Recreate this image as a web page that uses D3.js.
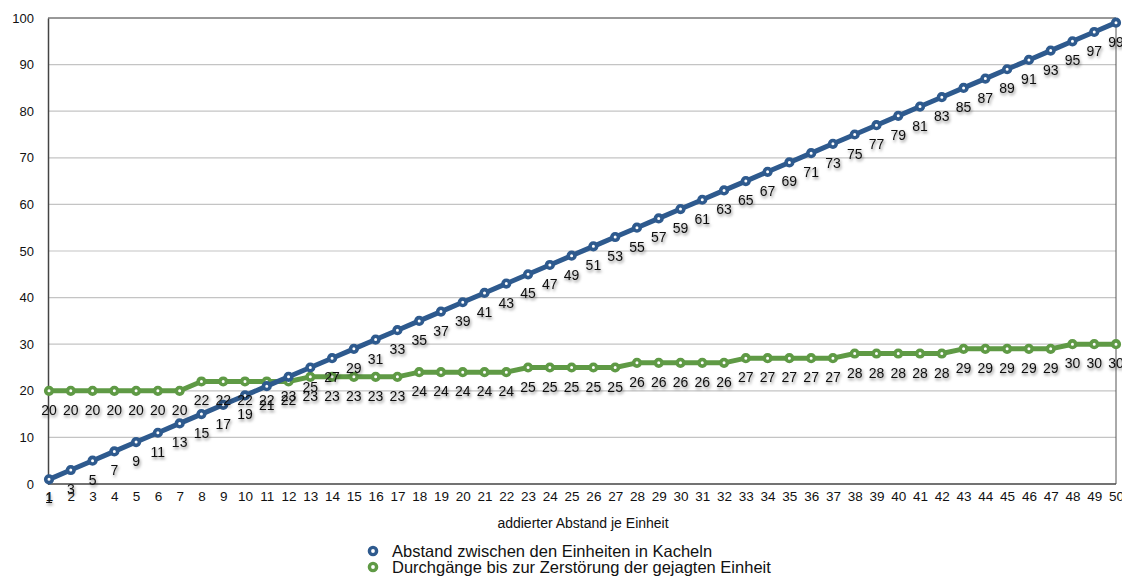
<!DOCTYPE html>
<html>
<head>
<meta charset="utf-8">
<script src="https://cdn.jsdelivr.net/npm/d3@7/dist/d3.min.js"></script>
<style>
  html, body { margin: 0; padding: 0; background: #fff; }
  svg { display: block; font-family: "Liberation Sans", Arial, Helvetica, sans-serif; }
</style>
</head>
<body>
<svg id="chart" width="1122" height="579"></svg>
<script>
// Categories on the x axis: added distance per unit
const categories = d3.range(1, 51);

// Distance between the units in tiles
const abstand = [1, 3, 5, 7, 9, 11, 13, 15, 17, 19, 21, 23, 25, 27, 29, 31, 33, 35, 37, 39,
  41, 43, 45, 47, 49, 51, 53, 55, 57, 59, 61, 63, 65, 67, 69, 71, 73, 75, 77, 79,
  81, 83, 85, 87, 89, 91, 93, 95, 97, 99];

// Turns until the hunted unit is destroyed
const durchgaenge = [20, 20, 20, 20, 20, 20, 20, 22, 22, 22, 22, 22, 23, 23, 23, 23, 23,
  24, 24, 24, 24, 24, 25, 25, 25, 25, 25, 26, 26, 26, 26, 26, 27, 27, 27, 27, 27,
  28, 28, 28, 28, 28, 29, 29, 29, 29, 29, 30, 30, 30];

const yTicks = [0, 10, 20, 30, 40, 50, 60, 70, 80, 90, 100];

const seriesNames = [
  "Abstand zwischen den Einheiten in Kacheln",
  "Durchgänge bis zur Zerstörung der gejagten Einheit"
];
const xTitle = "addierter Abstand je Einheit";

const series = [
  { name: seriesNames[0], values: abstand, color: "#2e5a8e" },
  { name: seriesNames[1], values: durchgaenge, color: "#5f9a45" }
];

const svg = d3.select("#chart");
const plot = { left: 49, right: 1116, top: 18, bottom: 484 };

const x = d3.scalePoint().domain(categories).range([plot.left, plot.right]);
const y = d3.scaleLinear().domain([0, 100]).range([plot.bottom, plot.top]);

// soft drop shadow used under the value labels
const defs = svg.append("defs");
const f = defs.append("filter").attr("id", "shadow")
  .attr("x", "-50%").attr("y", "-50%").attr("width", "200%").attr("height", "200%");
f.append("feDropShadow").attr("dx", 1).attr("dy", 2).attr("stdDeviation", 1.5)
  .attr("flood-color", "#000").attr("flood-opacity", 0.5);

// horizontal grid
svg.append("g")
  .selectAll("line")
  .data(yTicks.filter(t => t > 0 && t < 100))
  .join("line")
  .attr("x1", plot.left).attr("x2", plot.right)
  .attr("y1", d => y(d)).attr("y2", d => y(d))
  .attr("stroke", "#c4c4c4").attr("stroke-width", 1.2);

// frame
svg.append("line").attr("x1", plot.left - 1).attr("x2", plot.right).attr("y1", plot.top).attr("y2", plot.top)
  .attr("stroke", "#333").attr("stroke-width", 1);
svg.append("line").attr("x1", plot.right).attr("x2", plot.right).attr("y1", plot.top).attr("y2", plot.bottom)
  .attr("stroke", "#555").attr("stroke-width", 1);

// y axis
const yAxis = svg.append("g")
  .attr("transform", `translate(${plot.left - 1},0)`)
  .call(d3.axisLeft(y).tickValues(yTicks).tickSize(0).tickPadding(14));
yAxis.select(".domain").attr("stroke", "#444").attr("stroke-width", 1.5);
yAxis.selectAll("text").attr("font-size", 13).attr("fill", "#111")
  .attr("font-family", "Liberation Sans, Arial, sans-serif");

// x axis
const xAxis = svg.append("g")
  .attr("transform", `translate(0,${plot.bottom})`)
  .call(d3.axisBottom(x).tickSize(0).tickPadding(7));
xAxis.select(".domain").attr("stroke", "#444").attr("stroke-width", 1.5)
  .attr("d", `M${plot.left - 1},0H${plot.right}`);
xAxis.selectAll("text").attr("font-size", 13.5).attr("fill", "#111")
  .attr("font-family", "Liberation Sans, Arial, sans-serif");

// x axis title
svg.append("text")
  .attr("x", 583).attr("y", 528)
  .attr("text-anchor", "middle").attr("font-size", 14).attr("fill", "#111")
  .text(xTitle);

const line = d3.line().x((d, i) => x(categories[i])).y(d => y(d));

const gSeries = svg.append("g");
series.slice().reverse().forEach(s => {
  const g = gSeries.append("g");
  g.append("path")
    .attr("d", line(s.values))
    .attr("fill", "none").attr("stroke", s.color).attr("stroke-width", 5)
    .attr("stroke-linejoin", "round");
  g.selectAll("circle")
    .data(s.values)
    .join("circle")
    .attr("cx", (d, i) => x(categories[i]))
    .attr("cy", d => y(d))
    .attr("r", 3.3)
    .attr("fill", "#fff")
    .attr("stroke", s.color).attr("stroke-width", 3.6);
});

// value labels below each point
const gLabels = svg.append("g").attr("filter", "url(#shadow)");
series.forEach(s => {
  gLabels.append("g")
    .selectAll("text")
    .data(s.values)
    .join("text")
    .attr("x", (d, i) => x(categories[i]))
    .attr("y", d => y(d) + 24)
    .attr("text-anchor", "middle")
    .attr("font-size", 14)
    .attr("fill", "#111")
    .text(d => d);
});

// legend
const legend = svg.append("g");
series.forEach((s, i) => {
  const ly = 551 + i * 16;
  legend.append("circle")
    .attr("cx", 373).attr("cy", ly).attr("r", 3.6)
    .attr("fill", "#fff").attr("stroke", s.color).attr("stroke-width", 3.4);
  legend.append("text")
    .attr("x", 392).attr("y", ly + 5.5)
    .attr("font-size", 16.5).attr("fill", "#111")
    .text(s.name);
});
</script>
</body>
</html>
